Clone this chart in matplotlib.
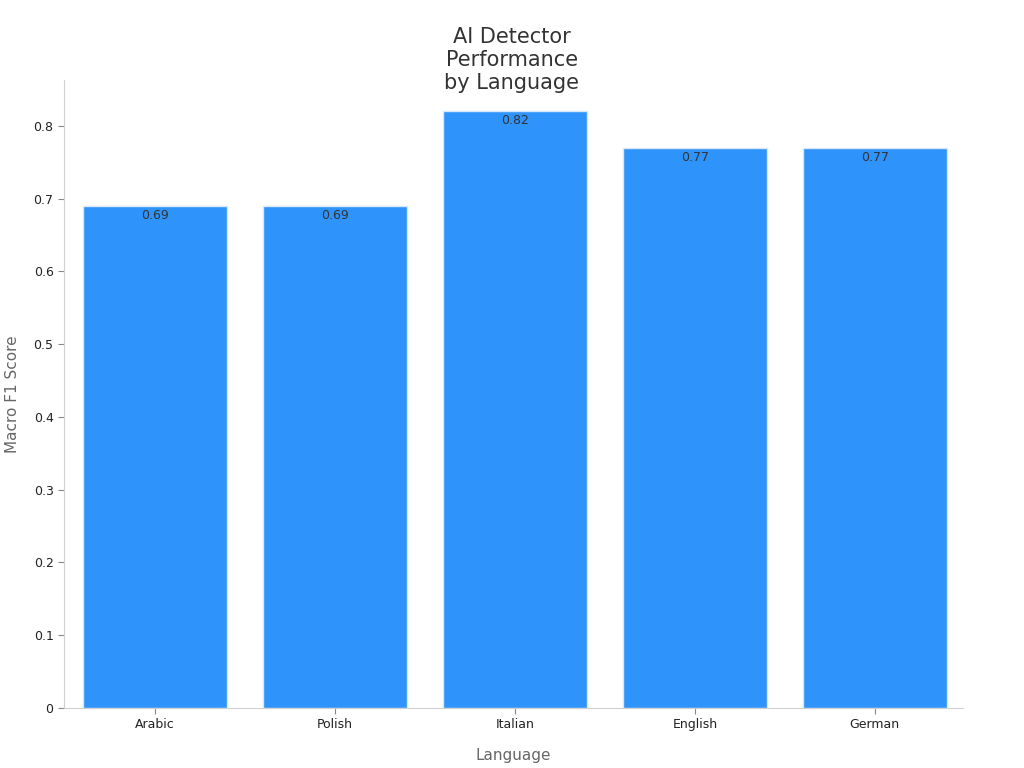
import matplotlib
matplotlib.use("Agg")
import matplotlib.pyplot as plt

languages = ["Arabic", "Polish", "Italian", "English", "German"]
scores = [0.69, 0.69, 0.82, 0.77, 0.77]

fig = plt.figure(figsize=(10.24, 7.68), dpi=100)
ax = fig.add_axes([64/1024, 60/768, (963-64)/1024, (708-80)/768])
x = range(len(languages))
bars = ax.bar(x, scores, width=0.8, color="#2E93FA", edgecolor="#d8e8f8", linewidth=1)
for xi, v in zip(x, scores):
    ax.text(xi, v - 0.004, f"{v:.2f}", ha="center", va="top", fontsize=9, color="#333333")
ax.set_xticks(list(x))
ax.set_xticklabels(languages, fontsize=9, color="#222222")
ax.set_yticks([0, 0.1, 0.2, 0.3, 0.4, 0.5, 0.6, 0.7, 0.8])
ax.set_yticklabels(["0", "0.1", "0.2", "0.3", "0.4", "0.5", "0.6", "0.7", "0.8"], fontsize=9, color="#222222")
ax.set_xlim(-0.505, 4.49)
ax.set_ylim(0, 0.863)
for s in ["top", "right"]:
    ax.spines[s].set_visible(False)
for s in ["left", "bottom"]:
    ax.spines[s].set_color("#d0d0d0")
ax.tick_params(colors="#888888", labelcolor="#222222", length=4)
ax.set_xlabel("Language", fontsize=11, color="#666666", labelpad=12)
ax.set_ylabel("Macro F1 Score", fontsize=11, color="#666666", labelpad=10)
fig.text(0.5, 1 - 60/768, "AI Detector\nPerformance\nby Language", ha="center", va="center",
         fontsize=15, color="#333333", linespacing=1.2)
fig.savefig("out.png", dpi=100)
